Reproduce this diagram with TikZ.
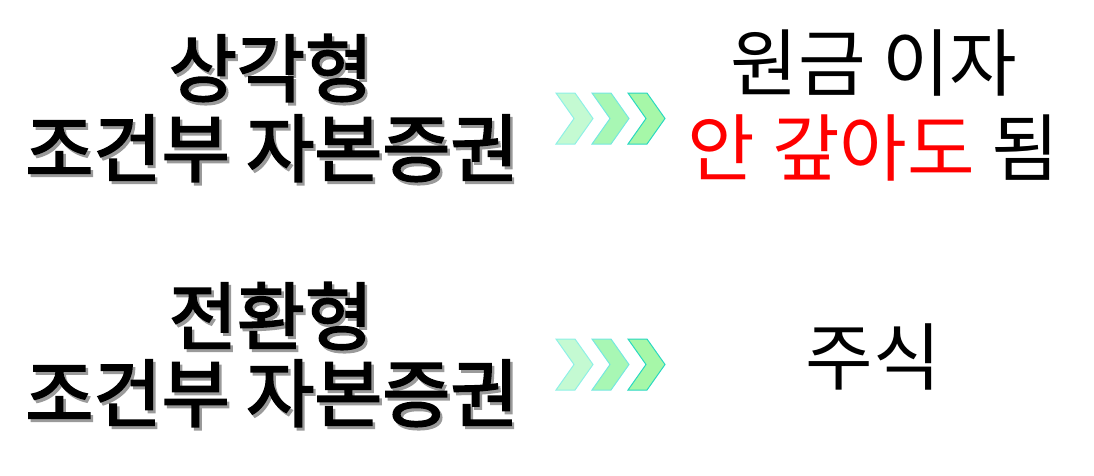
\documentclass[tikz,border=0pt]{standalone}
\usepackage{fontspec}
\newfontfamily\kr{Noto Sans CJK KR}
\newfontfamily\krb{Noto Sans CJK KR}[FakeBold=2.5]
\definecolor{chA}{HTML}{C4FAD2}
\definecolor{chB}{HTML}{A8F7B4}
\definecolor{chC}{HTML}{A6F7A8}
\definecolor{edA}{HTML}{8EF0E6}
\definecolor{edB}{HTML}{74E8E0}
\definecolor{edC}{HTML}{28D8C0}
\definecolor{shadowgray}{HTML}{9A9A9A}
\tikzset{
  big/.style={font=\krb\fontsize{74}{88}\selectfont, inner sep=0pt, anchor=base},
  plain/.style={font=\kr\fontsize{73.5}{88}\selectfont, inner sep=0pt, anchor=base},
}
\newcommand{\shadowed}[1]{\makebox[0pt][l]{\hspace{2.5pt}\raisebox{-3pt}{\textcolor{shadowgray}{#1}}}#1}
\newcommand{\chev}[4]{% x, y center, fill, edge
  \fill[#3, draw=#4, line width=1pt] (#1,#2-25.5) -- ++(19,0) -- ++(18,25.5) -- ++(-18,25.5) -- ++(-19,0) -- ++(18,-25.5) -- cycle;}
\begin{document}
\begin{tikzpicture}[x=1pt,y=-1pt]
\useasboundingbox (0,0) rectangle (1094,475);
% left texts
\node[big] (t1) at (271,96) {\shadowed{상각형}};
\node[big] (t2) at (272,176) {\shadowed{조건부 자본증권}};
\node[big] (t3) at (271,344) {\shadowed{전환형}};
\node[big] (t4) at (272,421) {\shadowed{조건부 자본증권}};
% chevrons
\chev{556}{118.5}{chA}{edA}
\chev{592}{118.5}{chB}{edB}
\chev{628}{118.5}{chC}{edC}
\chev{556}{364.5}{chA}{edA}
\chev{592}{364.5}{chB}{edB}
\chev{628}{364.5}{chC}{edC}
% right texts
\node[plain] (r1) at (874,90) {원금 이자};
\node[plain] (r2) at (873.5,175) {\textcolor{red}{안 갚아도} 됨};
\node[plain] (r3) at (873.5,384) {주식};
\end{tikzpicture}
\end{document}
